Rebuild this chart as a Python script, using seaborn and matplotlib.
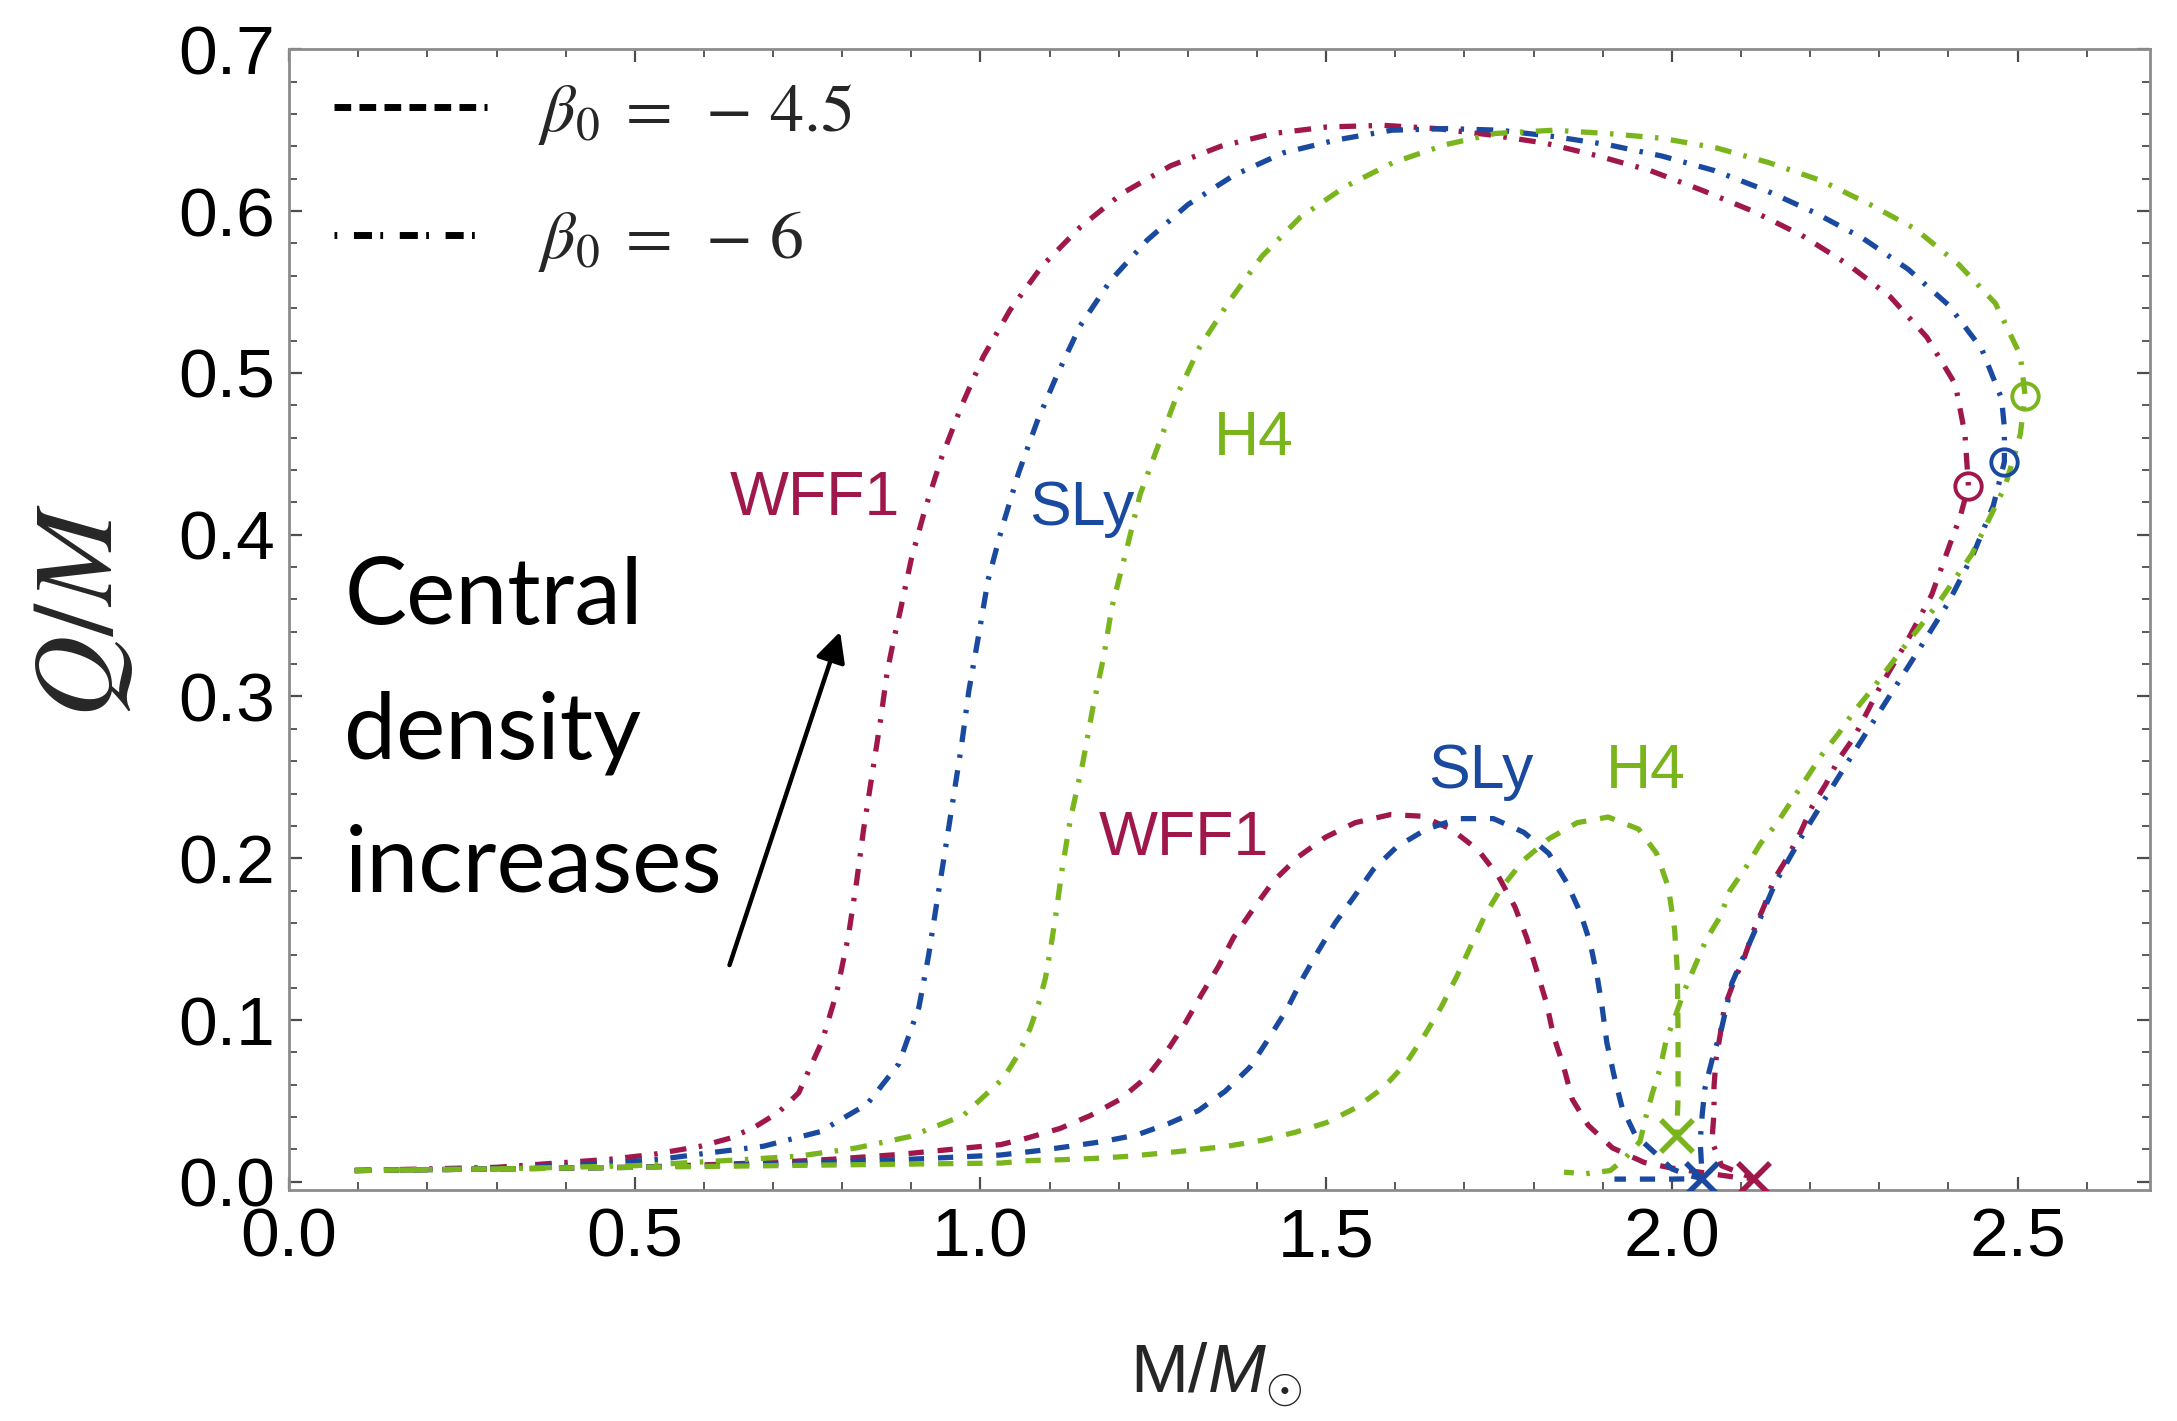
import numpy as np
import pandas as pd
import matplotlib
matplotlib.use("Agg")
import matplotlib.pyplot as plt
import seaborn as sns
from matplotlib.lines import Line2D
from matplotlib.ticker import MultipleLocator, FormatStrFormatter

# ---------------- data ----------------
# beta0 = -6 (dash-dot)
wff1_b6_M = [0.095, 0.2, 0.3, 0.4, 0.465, 0.527, 0.595, 0.638, 0.674, 0.708, 0.737, 0.771, 0.792, 0.809, 0.821,
             0.831, 0.843, 0.855, 0.865, 0.874, 0.884, 0.900, 0.920, 0.944, 0.973, 1.004, 1.043, 1.089, 1.144, 1.205,
             1.275, 1.347, 1.424, 1.501, 1.583, 1.660, 1.739, 1.817, 1.894, 1.969, 2.043, 2.117, 2.188, 2.255, 2.316,
             2.369, 2.410, 2.424, 2.429, 2.417, 2.403, 2.376, 2.340, 2.300, 2.264, 2.241, 2.223, 2.203, 2.186, 2.168,
             2.148, 2.134, 2.119, 2.105, 2.090, 2.076, 2.070, 2.064, 2.061, 2.061, 2.058, 2.072, 2.119]
wff1_b6_Q = [0.007, 0.008, 0.009, 0.012, 0.014, 0.017, 0.022, 0.027, 0.034, 0.043, 0.055, 0.087, 0.117, 0.152, 0.186,
             0.218, 0.251, 0.284, 0.315, 0.334, 0.353, 0.385, 0.416, 0.448, 0.480, 0.510, 0.539, 0.566, 0.590, 0.611,
             0.628, 0.640, 0.648, 0.652, 0.653, 0.651, 0.647, 0.642, 0.634, 0.625, 0.613, 0.600, 0.585, 0.567, 0.547,
             0.522, 0.493, 0.462, 0.430, 0.411, 0.395, 0.363, 0.334, 0.305, 0.275, 0.261, 0.246, 0.232, 0.216, 0.201,
             0.187, 0.171, 0.156, 0.139, 0.124, 0.108, 0.091, 0.076, 0.059, 0.043, 0.025, 0.010, 0.002]

sly_b6_M = [0.095, 0.3, 0.45, 0.537, 0.609, 0.686, 0.768, 0.836, 0.882, 0.911, 0.925, 0.937, 0.949, 0.961, 0.973,
            0.983, 0.997, 1.011, 1.031, 1.055, 1.082, 1.110, 1.144, 1.188, 1.241, 1.300, 1.366, 1.438, 1.515, 1.595,
            1.675, 1.751, 1.831, 1.908, 1.986, 2.062, 2.135, 2.207, 2.277, 2.342, 2.400, 2.448, 2.477, 2.481, 2.481,
            2.465, 2.436, 2.400, 2.356, 2.310, 2.270, 2.229, 2.190, 2.150, 2.120, 2.087, 2.072, 2.058, 2.048, 2.044,
            2.041, 2.044]
sly_b6_Q = [0.007, 0.008, 0.011, 0.014, 0.018, 0.022, 0.031, 0.048, 0.073, 0.108, 0.140, 0.173, 0.205, 0.238, 0.271,
            0.303, 0.337, 0.372, 0.404, 0.438, 0.470, 0.498, 0.529, 0.557, 0.582, 0.604, 0.622, 0.636, 0.644, 0.650,
            0.651, 0.650, 0.646, 0.641, 0.634, 0.625, 0.613, 0.599, 0.583, 0.564, 0.542, 0.515, 0.484, 0.466, 0.445,
            0.418, 0.388, 0.358, 0.328, 0.297, 0.270, 0.242, 0.215, 0.185, 0.155, 0.123, 0.095, 0.075, 0.058, 0.042,
            0.025, 0.002]

h4_b6_M = [0.095, 0.3, 0.5, 0.667, 0.739, 0.821, 0.898, 0.975, 1.033, 1.055, 1.072, 1.084, 1.094, 1.101, 1.110,
           1.118, 1.130, 1.148, 1.163, 1.178, 1.190, 1.212, 1.231, 1.257, 1.284, 1.317, 1.361, 1.407, 1.462, 1.527,
           1.597, 1.672, 1.745, 1.829, 1.906, 1.986, 2.065, 2.140, 2.215, 2.287, 2.352, 2.415, 2.468, 2.504, 2.511,
           2.504, 2.494, 2.482, 2.465, 2.434, 2.386, 2.333, 2.287, 2.264, 2.241, 2.217, 2.194, 2.151, 2.128, 2.108,
           2.084, 2.070, 2.050, 2.035, 2.018, 2.003, 1.992, 1.983, 1.972, 1.963, 1.954, 1.931, 1.911, 1.875, 1.844]
h4_b6_Q = [0.007, 0.008, 0.010, 0.014, 0.016, 0.021, 0.028, 0.041, 0.064, 0.079, 0.095, 0.110, 0.126, 0.143, 0.168,
           0.193, 0.224, 0.259, 0.294, 0.324, 0.355, 0.392, 0.425, 0.455, 0.486, 0.516, 0.545, 0.572, 0.596, 0.615,
           0.630, 0.641, 0.648, 0.650, 0.648, 0.645, 0.639, 0.630, 0.619, 0.604, 0.589, 0.567, 0.543, 0.511, 0.486,
           0.462, 0.447, 0.430, 0.415, 0.388, 0.358, 0.329, 0.303, 0.291, 0.277, 0.264, 0.249, 0.221, 0.209, 0.195,
           0.180, 0.164, 0.150, 0.135, 0.118, 0.100, 0.088, 0.070, 0.055, 0.041, 0.025, 0.014, 0.007, 0.005, 0.006]

# beta0 = -4.5 (dashed)
wff1_b45_M = [0.095, 0.3, 0.5, 0.7, 0.787, 0.884, 0.980, 1.029, 1.067, 1.115, 1.159, 1.202, 1.241, 1.270, 1.296,
              1.320, 1.344, 1.366, 1.395, 1.424, 1.460, 1.499, 1.542, 1.593, 1.638, 1.681, 1.720, 1.749, 1.773, 1.790,
              1.805, 1.819, 1.829, 1.843, 1.856, 1.879, 1.914, 1.960, 2.000, 2.040, 2.090, 2.119]
wff1_b45_Q = [0.007, 0.008, 0.009, 0.012, 0.014, 0.017, 0.021, 0.023, 0.027, 0.033, 0.041, 0.051, 0.065, 0.081, 0.098,
              0.116, 0.133, 0.151, 0.169, 0.186, 0.201, 0.213, 0.222, 0.227, 0.226, 0.218, 0.205, 0.189, 0.170, 0.151,
              0.130, 0.110, 0.090, 0.072, 0.051, 0.035, 0.021, 0.012, 0.0085, 0.006, 0.003, 0.002]

sly_b45_M = [0.095, 0.3, 0.5, 0.7, 0.9, 1.029, 1.084, 1.130, 1.178, 1.226, 1.272, 1.315, 1.354, 1.390, 1.416,
             1.443, 1.465, 1.489, 1.513, 1.540, 1.568, 1.602, 1.645, 1.691, 1.742, 1.786, 1.822, 1.848, 1.868, 1.882,
             1.892, 1.899, 1.906, 1.916, 1.928, 1.947, 1.983, 2.000, 2.025, 2.044, 2.000, 1.917]
sly_b45_Q = [0.007, 0.008, 0.009, 0.011, 0.014, 0.0166, 0.0193, 0.022, 0.025, 0.029, 0.036, 0.044, 0.056, 0.071, 0.088,
             0.1065, 0.125, 0.143, 0.160, 0.176, 0.193, 0.207, 0.218, 0.2245, 0.2245, 0.216, 0.203, 0.185, 0.166, 0.1475,
             0.127, 0.1085, 0.086, 0.0665, 0.046, 0.029, 0.015, 0.008, 0.004, 0.002, 0.0017, 0.0017]

h4_b45_M = [0.095, 0.3, 0.5, 0.7, 0.9, 1.029, 1.069, 1.118, 1.166, 1.214, 1.264, 1.313, 1.361, 1.409, 1.455,
            1.501, 1.544, 1.583, 1.616, 1.643, 1.667, 1.689, 1.710, 1.730, 1.754, 1.786, 1.822, 1.863, 1.908, 1.952,
            1.978, 1.995, 2.004, 2.008, 2.009, 2.009, 2.007]
h4_b45_Q = [0.007, 0.008, 0.009, 0.010, 0.011, 0.0116, 0.0131, 0.0137, 0.0145, 0.0158, 0.0178, 0.0199, 0.0223, 0.0258,
            0.0306, 0.0367, 0.046, 0.0583, 0.0736, 0.0911, 0.1085, 0.127, 0.1465, 0.165, 0.182, 0.199, 0.212, 0.222,
            0.2255, 0.218, 0.203, 0.182, 0.156, 0.130, 0.090, 0.052, 0.0285]

# marker points: 'o' (beta0=-6 turning points) and 'x' (end points)
eos_names = ["WFF1", "SLy", "H4"]
o_M = [2.429, 2.481, 2.511]
o_Q = [0.430, 0.445, 0.486]
x_M = [2.119, 2.044, 2.007]
x_Q = [0.0017, 0.0017, 0.0285]

# curve labels
upper_label_M = [0.760, 1.147, 1.396]
upper_label_Q = [0.412, 0.406, 0.449]
lower_label_M = [1.294, 1.723, 1.962]
lower_label_Q = [0.202, 0.2436, 0.2436]

xticks = [0.0, 0.5, 1.0, 1.5, 2.0, 2.5]
yticks = [0.0, 0.1, 0.2, 0.3, 0.4, 0.5, 0.6, 0.7]
legend_labels = [r"$\beta_0\;=\;-\,4.5$", r"$\beta_0\;=\;-\,6$"]
annot_lines = ["Central", "density", "increases"]

# ---------------- styling ----------------
colors = {"WFF1": "#A0174C", "SLy": "#1A4AA0", "H4": "#7AB51D"}
dash_pat = (11.0, 10.0)
dashdot_pat = (12.0, 9.0, 2.5, 9.0)

sns.set_theme(style="ticks")
plt.rcParams["font.family"] = ["Liberation Sans", "DejaVu Sans"]
plt.rcParams["mathtext.fontset"] = "custom"
plt.rcParams["mathtext.rm"] = "Liberation Sans"
plt.rcParams["mathtext.it"] = "Liberation Sans:italic"
plt.rcParams["lines.scale_dashes"] = False

curves = [
    ("WFF1", "-6", wff1_b6_M, wff1_b6_Q),
    ("SLy", "-6", sly_b6_M, sly_b6_Q),
    ("H4", "-6", h4_b6_M, h4_b6_Q),
    ("WFF1", "-4.5", wff1_b45_M, wff1_b45_Q),
    ("SLy", "-4.5", sly_b45_M, sly_b45_Q),
    ("H4", "-4.5", h4_b45_M, h4_b45_Q),
]
rows = []
for eos, beta, Ms, Qs in curves:
    for i, (m, q) in enumerate(zip(Ms, Qs)):
        rows.append({"eos": eos, "beta": beta, "curve": eos + beta, "i": i, "M": m, "QM": q})
df = pd.DataFrame(rows)

fig = plt.figure(figsize=(21.77, 14.21), dpi=100)
ax = fig.add_axes([0.1328, 0.1626, 0.8546, 0.8027])

sns.lineplot(data=df, x="M", y="QM", hue="eos", style="beta", units="curve", estimator=None, sort=False,
             palette=colors, dashes={"-4.5": dash_pat, "-6": dashdot_pat}, linewidth=3.8, legend=False, ax=ax)

for k, eos in enumerate(eos_names):
    ax.plot([o_M[k]], [o_Q[k]], linestyle="none", marker="o", markersize=19, markerfacecolor="none",
            markeredgecolor=colors[eos], markeredgewidth=2.8, zorder=5)
    ax.plot([x_M[k]], [x_Q[k]], linestyle="none", marker="x", markersize=23, markeredgecolor=colors[eos],
            markeredgewidth=4.0, zorder=5)

for k, eos in enumerate(eos_names):
    ax.text(upper_label_M[k], upper_label_Q[k], eos, color=colors[eos], fontsize=45, ha="center", va="baseline")
    ax.text(lower_label_M[k], lower_label_Q[k], eos, color=colors[eos], fontsize=45, ha="center", va="baseline")

annot_y = [0.3446, 0.2614, 0.179]
for t, yy in zip(annot_lines, annot_y):
    ax.text(0.080, yy, t, fontsize=67, family=["Lato", "DejaVu Sans"], ha="left", va="baseline", color="black")
ax.annotate("", xy=(0.797, 0.340), xytext=(0.637, 0.134),
            arrowprops=dict(arrowstyle="-|>", color="black", lw=3.2, mutation_scale=45, shrinkA=0, shrinkB=0))

# legend
handles = [Line2D([], [], color="black", lw=5, dashes=(12, 6)),
           Line2D([], [], color="black", lw=5, dashes=(2, 12, 13, 6))]
leg = ax.legend(handles, legend_labels, loc="upper left", bbox_to_anchor=(0.024, 0.972), frameon=False,
                fontsize=49, handlelength=2.25, handletextpad=0.75, labelspacing=0.9, borderpad=0,
                borderaxespad=0)
for t in leg.get_texts():
    t.set_math_fontfamily("stix")

# axes
ax.set_xlim(0.0, 2.691)
ax.set_ylim(-0.005, 0.7)
ax.set_xticks(xticks)
ax.set_yticks(yticks)
ax.xaxis.set_minor_locator(MultipleLocator(0.1))
ax.yaxis.set_minor_locator(MultipleLocator(0.02))
ax.xaxis.set_major_formatter(FormatStrFormatter("%.1f"))
ax.yaxis.set_major_formatter(FormatStrFormatter("%.1f"))
ax.tick_params(which="both", direction="in", top=True, right=True, colors="#4d4d4d", labelcolor="black")
ax.tick_params(which="major", length=9.5, width=1.6, labelsize=50)
ax.tick_params(axis="x", which="major", pad=12)
ax.tick_params(axis="y", which="major", pad=10)
ax.tick_params(which="minor", length=5.5, width=1.3)
for s in ax.spines.values():
    s.set_color("#8c8c8c")
    s.set_linewidth(2.0)

ax.set_xlabel(r"M/$M_{\odot}$", fontsize=50, va="baseline")
ax.xaxis.set_label_coords(0.498, -0.178)
ax.set_ylabel(r"$Q/M$", fontsize=82, math_fontfamily="stix", va="center")
ax.yaxis.set_label_coords(-0.111, 0.508)

fig.savefig("out.png", dpi=100, facecolor="white")
